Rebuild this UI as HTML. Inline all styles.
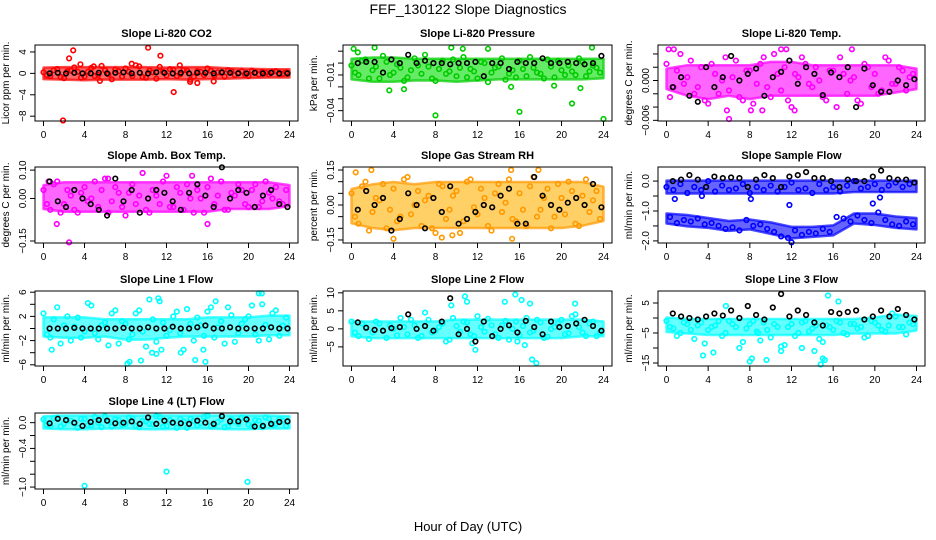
<!DOCTYPE html>
<html><head><meta charset="utf-8">
<style>
html,body{margin:0;padding:0;background:#fff;}
svg{display:block;font-family:"Liberation Sans",sans-serif;}
</style></head>
<body>
<svg id="chart" width="936" height="540" viewBox="0 0 936 540">
<text x="468" y="14" text-anchor="middle" font-size="14">FEF_130122  Slope Diagnostics</text>
<text x="468" y="531" text-anchor="middle" font-size="13">Hour of Day (UTC)</text>
</svg>
<script>
// x tick labels shared by all panels
const xTicks = [0,4,8,12,16,20,24];
// band envelope hours (dense cloud of points)
const bandHours = [0,2,4,6,8,10,12,14,16,18,20,22,24];

// Panel 1 CO2
const co2A = [0.2,-0.5,0.8,-0.9,0.5,0.3,-0.6,1.0,-0.3,0.6,-1.1,0.4,0.9,-0.5,1.3,-0.8,0.2,1.2,-0.4,0.7,-0.2,0.5,-0.6,0.3,0.9,-0.4,0.1,0.6,-0.3,0.4,-0.5,0.2,0.3,-0.2,0.4,-0.1];
const co2B = [-0.3,0.6,-0.7,0.4,1.1,-0.8,0.3,-0.5,1.4,-0.2,0.7,-0.6,0.3,1.5,-0.7,0.5,-1.0,0.3,0.8,-0.5,0.6,-1.2,0.4,-0.3,0.5,0.2,-0.6,0.4,0.1,-0.3,0.5,-0.2,0.1,0.3,-0.2,0.2];
const co2OutT = [2.5,2.9,3.6,1.9,10.2,11.4,12.7,14.3,15.0,16.6,5.5,8.6,13.3,4.9];
const co2OutV = [2.8,4.3,1.7,-8.8,4.8,3.3,-3.5,-1.6,-1.8,-1.5,-1.4,1.8,1.5,1.3];
const co2Blk = [0,0.1,0,0.1,0,0,0.1,0,0.1,0.2,0,0.1,0,0.2,0.1,0,0.1,0,0.1,0.1,0,0.2,0.1,0,0,0.1,0,0.1,0,0];
const co2Hi = [0.7,0.8,0.8,0.8,0.8,0.8,0.7,0.8,0.8,0.6,0.5,0.4,0.4];
const co2Lo = [-0.7,-0.8,-0.9,-0.8,-0.8,-0.8,-0.7,-0.8,-0.7,-0.6,-0.5,-0.4,-0.4];
const co2Ticks = [-8,-4,0,4];

// Panel 2 pressure
const presA = [-0.002,-0.010,0.003,-0.006,-0.013,0.001,-0.008,-0.004,-0.012,0.004,-0.009,-0.003,-0.015,0.002,-0.007,-0.011,0.005,-0.005,-0.013,0.000,-0.008,-0.003,-0.014,-0.006,0.002,-0.011,-0.004,-0.009,0.003,-0.012,-0.006,-0.002,-0.010,0.001,-0.007,-0.004];
const presB = [-0.008,0.002,-0.013,-0.003,0.006,-0.010,-0.001,-0.015,-0.006,-0.002,0.007,-0.013,-0.005,-0.009,0.003,-0.004,-0.012,-0.007,0.001,-0.016,-0.004,0.004,-0.009,-0.012,-0.005,0.005,-0.008,-0.013,-0.003,0.002,-0.010,-0.007,0.004,-0.011,-0.002,-0.008];
const presOutT = [0.2,2.2,9.5,13,22.9,8,16,24,3.6,5,21,19.3,21.8,15.2,0.6,10.6];
const presOutV = [0.012,0.013,0.013,0.012,0.013,-0.044,-0.041,-0.047,-0.023,-0.022,-0.034,-0.019,-0.021,-0.020,0.009,0.012];
const presBlk = [0.000,0.001,0.001,-0.008,0.003,0.000,0.007,0.000,0.002,0.000,0.000,-0.001,0.000,0.000,0.001,-0.011,0.000,0.000,-0.005,0.001,0.000,0.000,0.004,0.000,0.000,0.001,0.000,-0.001,0.000,0.006];
const presHi = [0.002,0.003,0.003,0.002,0.002,0.002,0.002,0.002,0.002,0.002,0.002,0.002,0.002];
const presLo = [-0.012,-0.014,-0.014,-0.013,-0.013,-0.014,-0.013,-0.012,-0.012,-0.012,-0.012,-0.012,-0.011];
const presTicks = [0.01,0,-0.01,-0.02,-0.03,-0.04];
const presLabels = ["","","-0.01","","","-0.04"];

// Panel 3 Li-820 temp
const tmpA = [0.0025,-0.001,0.004,0.0005,-0.002,0.002,-0.0035,0.001,0.0,-0.0015,0.003,-0.003,0.0015,-0.0005,0.0035,-0.0025,0.001,0.002,-0.004,0.0005,0.0025,-0.001,0.0,-0.003,0.0015,0.0035,-0.002,0.0005,-0.0035,0.002,0.001,-0.0015,0.003,-0.0005,0.0015,0.0005];
const tmpB = [-0.0025,0.0015,-0.0005,0.003,-0.001,-0.003,0.0025,-0.002,0.0035,0.0005,-0.0025,0.0015,-0.0035,0.0025,-0.001,0.004,-0.0015,-0.003,0.001,0.0035,-0.0005,0.002,-0.0025,0.0015,-0.004,0.001,0.0,-0.003,0.0025,-0.001,-0.002,0.0035,-0.0005,0.002,-0.0015,0.001];
const tmpOutT = [5.8,6.0,0.2,0.7,9.2,17.8,8.1,12.3,11.0,11.5];
const tmpOutV = [-0.0045,-0.0058,0.0047,0.0047,-0.0045,0.0047,-0.0045,-0.0045,0.0047,0.0047];
const tmpBlk = [-0.001,0.0005,-0.0023,-0.0032,0.002,-0.001,0.0005,0.0037,0.0,0.001,0.0018,-0.0023,0.0005,0.0013,0.003,-0.0005,0.002,0.001,-0.0022,0.0012,0.0005,0.002,-0.004,0.0018,-0.0007,-0.0017,-0.0017,0.0,-0.0007,0.0002];
const tmpHi = [0.0015,0.002,0.002,0.002,0.002,0.0025,0.0025,0.002,0.002,0.002,0.002,0.002,0.0015];
const tmpLo = [-0.001,-0.002,-0.0025,-0.002,-0.0025,-0.002,-0.002,-0.002,-0.002,-0.002,-0.002,-0.0015,-0.001];
const tmpTicks = [0.004,0.002,0,-0.002,-0.004,-0.006];
const tmpLabels = ["","","0.000","","","-0.006"];

// Panel 4 amb box temp
const ambA = [0.03,-0.04,0.06,-0.02,0.01,-0.05,0.04,0.0,-0.03,0.07,-0.01,0.02,-0.06,0.05,0.01,-0.04,0.03,-0.02,0.08,-0.03,0.02,0.05,-0.05,0.0,0.04,-0.02,0.06,-0.04,0.01,0.03,-0.03,0.05,-0.01,0.02,0.04,-0.02];
const ambB = [-0.02,0.05,-0.05,0.03,-0.04,0.02,-0.01,0.06,0.03,-0.05,0.04,-0.03,0.02,-0.02,0.09,-0.05,0.01,0.06,-0.03,0.04,-0.04,0.0,0.03,-0.05,0.07,0.01,-0.04,0.02,0.05,-0.02,0.03,-0.03,0.06,0.0,-0.01,0.03];
const ambOutT = [1.3,2.5,6.3,0.5,16,14.5];
const ambOutV = [-0.09,-0.155,0.07,0.06,-0.09,0.08];
const ambBlk = [0.06,-0.01,-0.03,0.03,0.0,-0.02,-0.04,-0.06,0.07,-0.01,0.03,-0.05,0.0,0.03,0.02,-0.01,-0.04,0.02,0.05,0.01,-0.03,0.11,0.0,0.03,0.02,-0.03,0.01,0.03,-0.02,-0.03];
const ambHi = [0.04,0.05,0.05,0.05,0.05,0.05,0.05,0.05,0.05,0.05,0.05,0.05,0.04];
const ambLo = [-0.03,-0.04,-0.04,-0.04,-0.04,-0.04,-0.04,-0.04,-0.04,-0.03,-0.03,-0.03,-0.02];
const ambTicks = [0.10,0.00,-0.15];
const ambLabels = ["0.10","0.00","-0.15"];

// Panel 5 gas stream RH
const rhA = [0.05,-0.08,0.10,-0.03,0.02,-0.10,0.07,-0.05,0.12,0.0,-0.09,0.04,-0.12,0.08,-0.02,0.06,-0.07,0.11,-0.04,0.03,-0.11,0.09,0.01,-0.06,0.05,-0.09,0.12,-0.02,0.07,-0.05,0.03,0.10,-0.08,0.04,-0.03,0.06];
const rhB = [-0.05,0.08,-0.11,0.03,0.09,-0.02,-0.07,0.11,-0.04,0.06,0.02,-0.10,0.09,-0.06,0.04,-0.12,0.10,-0.01,0.07,-0.09,0.05,-0.03,0.11,-0.07,-0.02,0.08,-0.05,0.03,-0.10,0.09,-0.04,0.06,-0.09,0.11,0.02,-0.06];
const rhOutT = [0.4,1.9,4.0,8.6,9.6,15.2,15.3,17.8];
const rhOutV = [0.14,0.15,-0.145,-0.14,-0.13,0.15,-0.145,0.15];
const rhBlk = [-0.02,0.06,0.0,0.03,-0.11,-0.06,0.05,0.0,-0.1,0.03,-0.03,0.08,-0.08,-0.06,-0.03,0.0,-0.01,0.04,0.07,-0.08,-0.08,0.12,0.04,0.0,-0.02,0.01,0.03,0.0,0.09,-0.01];
const rhHi = [0.06,0.08,0.09,0.08,0.09,0.09,0.09,0.09,0.09,0.09,0.09,0.09,0.07];
const rhLo = [-0.07,-0.09,-0.1,-0.09,-0.09,-0.09,-0.09,-0.09,-0.09,-0.09,-0.09,-0.08,-0.06];
const rhTicks = [0.15,0.10,0.05,0,-0.05,-0.10,-0.15];
const rhLabels = ["0.15","","","0.00","","","-0.15"];

// Panel 6 sample flow
const sfA = [-0.2,-0.3,-0.1,-0.4,-0.2,-0.3,0.0,-0.35,-0.15,-0.3,-0.25,-0.1,-0.4,-0.2,-0.3,-0.15,-0.35,-0.2,-0.05,-0.3,-0.25,-0.4,-0.1,-0.3,-0.2,-0.35,-0.15,0.0,-0.25,-0.2,-0.1,-0.3,-0.15,-0.05,-0.2,-0.1];
const sfB = [-1.2,-1.4,-1.3,-1.35,-1.25,-1.45,-1.4,-1.5,-1.6,-1.55,-1.65,-1.3,-1.5,-1.45,-1.6,-1.7,-1.85,-1.9,-1.65,-1.8,-1.7,-1.75,-1.6,-1.7,-1.2,-1.25,-1.35,-1.15,-1.3,-1.4,-1.05,-1.3,-1.45,-1.5,-1.35,-1.45];
const sfOutT = [0.8,3.4,8.1,11.8,19.8,12.0,20.5];
const sfOutV = [-0.6,-0.5,-0.6,-0.8,-0.75,-2.05,-0.55];
const sfBlk = [0.0,0.05,0.2,0.05,-0.2,0.15,0.1,0.12,0.1,-0.2,0.05,0.2,0.1,-0.2,0.15,0.2,0.3,0.1,0.1,0.0,-0.2,0.05,0.0,0.0,0.15,0.35,0.1,0.05,0.05,-0.05];
const sfHi = [-0.05,-0.05,-0.05,-0.05,-0.05,-0.05,-0.05,-0.05,-0.05,-0.05,-0.05,-0.05,-0.05];
const sfLo = [-0.35,-0.35,-0.35,-0.35,-0.35,-0.35,-0.35,-0.35,-0.35,-0.3,-0.3,-0.3,-0.3];
const sfHi2 = [-1.15,-1.2,-1.3,-1.4,-1.35,-1.45,-1.6,-1.6,-1.55,-1.15,-1.15,-1.25,-1.3];
const sfLo2 = [-1.35,-1.45,-1.5,-1.6,-1.55,-1.7,-1.85,-1.8,-1.75,-1.35,-1.4,-1.5,-1.55];
const sfTicks = [0,-0.5,-1,-1.5,-2];
const sfLabels = ["0.0","","-1.0","","-2.0"];

// Panel 7 line 1
const l1A = [2.5,-1.5,3.5,0.5,-2.0,1.8,-0.5,3.8,-1.8,1.0,2.5,-2.5,0.8,-1.0,3.0,-3.0,1.5,4.5,-1.2,2.0,-0.8,3.2,-2.0,0.5,2.8,-1.5,1.2,3.5,-2.2,0.8,2.0,-1.0,4.0,-1.8,3.0,0.5];
const l1B = [-1.0,1.5,-2.5,2.0,0.3,-1.5,4.2,-0.8,0.5,-2.8,3.0,1.2,-1.8,2.5,-0.5,4.8,-2.2,1.0,-0.3,2.8,-3.5,0.8,1.8,-1.2,3.5,0.2,-2.5,2.2,-0.8,1.5,3.8,-2.0,0.6,2.5,-1.2,1.8];
const l1OutT = [0.8,8.2,8.4,9.5,10.6,11.5,11.2,13.4,14.8,15.8,15.6,16.8,21.0,21.3,11.0];
const l1OutV = [-3.5,-5.8,-5.5,-5.3,-4.0,-3.5,5.0,-4.0,-5.2,-5.5,-3.5,4.5,5.8,5.8,-4.2];
const l1Blk = [0,0,0,0.1,0,0,0,0,0,0.1,0,0,0.2,0,0,0.3,0,0,0.2,0.5,0,0,0.2,0,0,0,0,0.2,0,0];
const l1Hi = [1.5,1.5,1.5,1.2,1.2,1.2,1.2,1.2,1.5,1.5,1.5,1.8,1.8];
const l1Lo = [-1.0,-1.2,-1.2,-1.0,-1.5,-1.5,-1.2,-1.0,-1.0,-1.0,-1.0,-0.8,-0.8];
const l1Ticks = [6,4,2,0,-2,-4,-6];
const l1Labels = ["6","","2","","-2","","-6"];

// Panel 8 line 2
const l2A = [2.0,-2.0,0.5,-1.0,1.5,-2.5,0.0,3.0,-1.5,1.0,-2.0,2.5,-0.5,1.5,-3.0,0.8,2.0,-1.5,3.5,-0.8,1.0,-2.5,2.2,0.0,-1.8,3.0,-0.5,1.8,-2.2,0.5,2.5,-1.2,4.0,-1.0,1.5,-2.0];
const l2B = [-1.0,1.5,-2.8,2.0,-0.5,1.0,-1.8,0.5,2.5,-2.5,4.5,-1.0,0.5,-3.5,3.0,-0.8,1.8,-2.0,0.5,2.8,-1.5,1.0,-3.0,2.0,0.8,-1.0,2.5,-2.5,0.0,1.5,-1.5,3.5,0.5,-2.0,2.0,-1.0];
const l2OutT = [9.5,10.8,11.0,11.8,14.6,15.6,15.8,16.2,17.2,17.6,17.0,16.5,21.3,11.5];
const l2OutV = [6.5,9.0,7.5,-5.8,7.5,9.5,-3.5,8.0,-8.5,-9.5,7.0,-4.5,7.0,-4.0];
const l2Blk = [1.8,0.3,-0.3,-0.5,0.2,0.5,4.0,0.0,0.8,-0.5,2.0,8.5,-1.5,0.0,-3.5,2.0,-2.0,0.0,1.0,-1.0,2.2,0.5,-1.5,2.0,0.5,0.8,1.5,2.5,0.8,-0.5];
const l2Hi = [1.5,1.5,1.5,1.5,1.5,2.0,2.0,2.0,2.0,2.0,2.0,2.0,1.5];
const l2Lo = [-1.5,-2.0,-2.0,-2.0,-2.0,-2.0,-2.0,-2.0,-2.0,-2.0,-2.0,-1.5,-1.5];
const l2Ticks = [10,5,0,-5];
const l2Labels = ["10","5","0","-5"];

// Panel 9 line 3
const l3A = [-1.0,-3.5,-5.0,-2.0,-7.0,-1.5,-4.0,-2.5,-6.0,-1.0,-3.0,-8.0,-2.0,-4.5,-1.5,-6.5,-3.0,-9.0,-2.0,-5.0,-1.0,-3.5,-7.0,-2.5,-4.0,-1.5,-5.5,-2.0,-3.0,-6.0,-1.5,-4.0,-2.5,0.5,-3.0,-1.5];
const l3B = [-3.0,-6.0,-1.5,-4.0,-2.5,-8.5,-3.0,-1.0,-5.0,-2.0,-10.0,-3.5,-1.0,-7.5,-4.0,-2.0,-11.0,-3.0,-6.0,-1.5,-4.5,-2.5,-8.0,-3.0,-1.0,-5.0,-2.0,-3.5,-6.5,-1.0,-2.5,-4.5,1.5,-3.0,-5.5,-2.0];
const l3OutT = [3.5,4.5,8.0,8.2,9.6,11.0,13.0,14.2,14.8,15.0,15.2,15.5,16.5,8.8,5.7];
const l3OutV = [-12.5,-11.5,-14.5,-13.5,-14.0,-9.5,-10.0,-11.0,-15.5,-13.5,-14.0,7.5,5.5,-5.0,4.0];
const l3Blk = [1.5,0.5,0.0,-0.5,0.5,1.5,0.8,2.5,0.0,4.0,1.0,-0.5,3.5,8.0,0.5,2.5,1.0,-1.5,-2.5,2.0,1.5,2.0,2.5,-0.5,0.5,2.5,0.5,3.0,1.0,-0.5];
const l3Hi = [-0.5,-1.0,-1.0,-1.0,-1.0,-1.0,-1.0,-1.0,-1.0,-1.0,-0.5,0.5,0.0];
const l3Lo = [-4.0,-4.5,-5.0,-5.0,-5.0,-5.0,-5.0,-5.0,-5.0,-4.5,-4.5,-4.5,-3.5];
const l3Ticks = [5,0,-5,-10,-15];
const l3Labels = ["5","","-5","","-15"];

// Panel 10 line 4
const l4A = [0.05,-0.05,0.08,-0.02,0.03,-0.08,0.06,-0.04,0.0,0.1,-0.06,0.04,-0.02,0.07,-0.07,0.02,-0.03,0.09,-0.05,0.01,0.06,-0.08,0.03,-0.01,0.11,-0.04,0.05,-0.06,0.02,0.08,-0.03,0.04,-0.07,0.06,-0.02,0.03];
const l4B = [-0.03,0.07,-0.06,0.04,-0.01,0.06,-0.04,0.09,-0.07,0.02,0.05,-0.03,0.08,-0.05,0.03,-0.02,0.1,-0.06,0.04,-0.08,0.02,0.06,-0.04,0.09,-0.05,0.01,-0.07,0.05,-0.02,0.07,-0.06,0.03,0.08,-0.04,0.05,-0.05];
const l4OutT = [4.0,12.0,19.9];
const l4OutV = [-0.98,-0.76,-0.92];
const l4Blk = [-0.01,0.06,0.04,0.0,-0.05,0.01,0.04,0.03,-0.01,0.0,0.02,-0.02,0.08,-0.02,0.03,0.0,-0.01,-0.02,0.03,0.0,-0.02,0.1,0.02,0.02,0.05,-0.06,-0.05,-0.02,0.01,0.02];
const l4Hi = [0.07,0.08,0.08,0.08,0.08,0.08,0.08,0.08,0.08,0.08,0.08,0.08,0.07];
const l4Lo = [-0.06,-0.07,-0.07,-0.06,-0.06,-0.07,-0.07,-0.06,-0.06,-0.07,-0.07,-0.06,-0.06];
const l4Ticks = [0,-0.2,-0.4,-0.6,-0.8,-1.0];
const l4Labels = ["0.0","","-0.4","","","-1.0"];

const svg = document.getElementById('chart');
const NS = 'http://www.w3.org/2000/svg';
function mk(tag, attrs, parent){
  const e = document.createElementNS(NS, tag);
  for (const k in attrs) e.setAttribute(k, attrs[k]);
  parent.appendChild(e);
  return e;
}
const colL = [35, 343, 658], colR = [298, 612, 925];
const rowT = [45, 167, 291, 413], rowB = [121, 243, 366, 489];

function panel(col, row, title, ylab, ymin, ymax, yt, yl, A, B, oT, oV, blk, bands, cA, cB, name){
  const g = mk('g', {}, svg);
  
  
  const L = colL[col], R = colR[col], T = rowT[row], Bt = rowB[row];
  const x0 = L + 8.5, x1 = R - 8.5;
  const xs = t => x0 + (t / 24) * (x1 - x0);
  const ys = v => Bt - (v - ymin) / (ymax - ymin) * (Bt - T);
  const tt = mk('text', {x: (L + R) / 2, y: T - 8, 'text-anchor': 'middle', 'font-size': 11, 'font-weight': 'bold'}, g);
  tt.textContent = title;
  
  
  const cx = L - 26, cy = (T + Bt) / 2;
  const yl2 = mk('text', {x: cx, y: cy, 'text-anchor': 'middle', 'font-size': 10, transform: `rotate(-90 ${cx} ${cy})`}, g);
  yl2.textContent = ylab;
  
  
  bands.forEach(([hi, lo]) => {
    let d = '';
    bandHours.forEach((h, i) => { d += (i ? 'L' : 'M') + xs(h).toFixed(1) + ',' + (ys(hi[i]) - 2).toFixed(1); });
    for (let i = bandHours.length - 1; i >= 0; i--) d += 'L' + xs(bandHours[i]).toFixed(1) + ',' + (ys(lo[i]) + 2).toFixed(1);
    const p = mk('path', {d: d + 'Z', fill: cB, 'fill-opacity': 0.6, stroke: cA, 'stroke-width': 2.5, 'stroke-opacity': 0.7, 'stroke-linejoin': 'round'}, g);
    
    
  });
  const pts = mk('g', {fill: 'none', 'stroke-width': 1.6}, g);
  
  
  const dot = (t, v, c, nm) => {
    const y = ys(v);
    if (y < T - 2 || y > Bt + 2) return;
    const e = mk('circle', {cx: xs(t).toFixed(1), cy: y.toFixed(1), r: 2.3, stroke: c}, pts);
    
    
  };
  A.forEach((v, i) => dot(i * 2 / 3, v, cA, 'point-a'));
  B.forEach((v, i) => dot(i * 2 / 3 + 1 / 3, v, cA, 'point-b'));
  oT.forEach((t, i) => dot(t, oV[i], cA, 'outlier-point'));
  blk.forEach((v, i) => dot(0.6 + i * 0.8, v, '#000', 'black-point'));
  const box = mk('rect', {x: L, y: T, width: R - L, height: Bt - T, fill: 'none', stroke: '#000', 'stroke-width': 1}, g);
  
  
  xTicks.forEach(t => {
    const x = xs(t);
    mk('line', {x1: x, x2: x, y1: Bt, y2: Bt + 5, stroke: '#000'}, g);
    const tx = mk('text', {x: x, y: Bt + 17, 'text-anchor': 'middle', 'font-size': 10}, g);
    tx.textContent = t;
    
    
  });
  yt.forEach((v, i) => {
    const y = ys(v);
    mk('line', {x1: L - 5, x2: L, y1: y, y2: y, stroke: '#000'}, g);
    if (yl[i] !== '') {
      const lx = L - 9;
      const tx = mk('text', {x: lx, y: y, 'text-anchor': 'middle', 'font-size': 10, transform: `rotate(-90 ${lx} ${y})`}, g);
      tx.textContent = yl[i].replace('-', '\u2212');
      
      
    }
  });
}
panel(0,0,'Slope Li-820 CO2','Licor ppm per min.',-8.9,5.3,co2Ticks,co2Ticks.map(String),co2A,co2B,co2OutT,co2OutV,co2Blk,[[co2Hi,co2Lo]],'#ff0000','#ff0000','co2');
panel(1,0,'Slope Li-820 Pressure','kPa per min.',-0.0487,0.0152,presTicks,presLabels,presA,presB,presOutT,presOutV,presBlk,[[presHi,presLo]],'#00cc00','#00dd00','pressure');
panel(2,0,'Slope Li-820 Temp.','degrees C per min.',-0.0061,0.00535,tmpTicks,tmpLabels,tmpA,tmpB,tmpOutT,tmpOutV,tmpBlk,[[tmpHi,tmpLo]],'#ff00ff','#ff00ff','li820-temp');
panel(0,1,'Slope Amb. Box Temp.','degrees C per min.',-0.157,0.111,ambTicks,ambLabels,ambA,ambB,ambOutT,ambOutV,ambBlk,[[ambHi,ambLo]],'#ff00ff','#ff00ff','amb-box-temp');
panel(1,1,'Slope Gas Stream RH','percent per min.',-0.163,0.163,rhTicks,rhLabels,rhA,rhB,rhOutT,rhOutV,rhBlk,[[rhHi,rhLo]],'#ff9900','#ffb000','gas-rh');
panel(2,1,'Slope Sample Flow','ml/min per min.',-2.07,0.47,sfTicks,sfLabels,sfA,sfB,sfOutT,sfOutV,sfBlk,[[sfHi,sfLo],[sfHi2,sfLo2]],'#0000ff','#0000ff','sample-flow');
panel(0,2,'Slope Line 1 Flow','ml/min per min.',-6.2,6.2,l1Ticks,l1Labels,l1A,l1B,l1OutT,l1OutV,l1Blk,[[l1Hi,l1Lo]],'#00ffff','#00ffff','line1-flow');
panel(1,2,'Slope Line 2 Flow','ml/min per min.',-10.3,10.5,l2Ticks,l2Labels,l2A,l2B,l2OutT,l2OutV,l2Blk,[[l2Hi,l2Lo]],'#00ffff','#00ffff','line2-flow');
panel(2,2,'Slope Line 3 Flow','ml/min per min.',-16,9,l3Ticks,l3Labels,l3A,l3B,l3OutT,l3OutV,l3Blk,[[l3Hi,l3Lo]],'#00ffff','#00ffff','line3-flow');
panel(0,3,'Slope Line 4 (LT) Flow','ml/min per min.',-1.03,0.15,l4Ticks,l4Labels,l4A,l4B,l4OutT,l4OutV,l4Blk,[[l4Hi,l4Lo]],'#00ffff','#00ffff','line4-flow');
</script>
</body></html>
